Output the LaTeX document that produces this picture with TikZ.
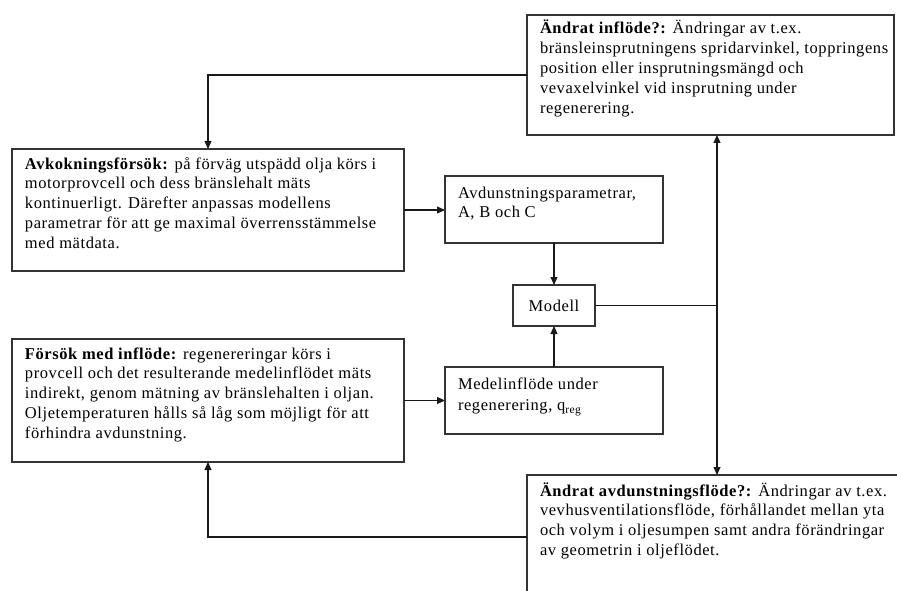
\documentclass[tikz,border=0pt]{standalone}
\usepackage{fontspec}
\setmainfont{Liberation Serif}[LetterSpace=3.5]
\usetikzlibrary{arrows.meta}

% Fixed-size box contents: text set flush left from the top, first baseline #3 below the top edge
\newcommand{\boxlines}[4]{\parbox[c][#2][t]{#1}{\hspace*{13pt}\begin{tabular}[t]{@{}l@{}}\rule{0pt}{#3}#4\end{tabular}}}

\begin{document}
\begin{tikzpicture}[x=1pt,y=-1pt,
  box/.style={draw=black!80, line width=1.1pt, inner sep=0pt, outer sep=0pt,
    anchor=north west, font=\fontsize{16.5}{19.8}\selectfont},
  conn/.style={draw=black!90, line width=1.1pt},
  arr/.style={conn, -{Triangle[length=8pt,width=7pt]}}]

\useasboundingbox (0,0) rectangle (897,591);
\fill[white] (0,0) rectangle (897,591);
\clip (0,0) rectangle (897,591);

% Boxes
\node[box] (inflow) at (527,15) {\boxlines{367pt}{120pt}{19pt}{%
  \textbf{Ändrat inflöde?:} Ändringar av t.ex.\\
  bränsleinsprutningens spridarvinkel, toppringens\\
  position eller insprutningsmängd och\\
  vevaxelvinkel vid insprutning under\\
  regenerering.}};

\node[box] (avkok) at (12,149) {\boxlines{392pt}{122pt}{20pt}{%
  \textbf{Avkokningsförsök:} på förväg utspädd olja körs i\\
  motorprovcell och dess bränslehalt mäts\\
  kontinuerligt. Därefter anpassas modellens\\
  parametrar för att ge maximal överrensstämmelse\\
  med mätdata.}};

\node[box] (params) at (445,176) {\boxlines{218pt}{67pt}{22pt}{%
  Avdunstningsparametrar,\\
  A, B och C}};

\node[box, minimum width=82pt, minimum height=41pt] (modell) at (513,285) {Modell};

\node[box] (forsok) at (12,339) {\boxlines{392pt}{123pt}{20pt}{%
  \textbf{Försök med inflöde:} regenereringar körs i\\
  provcell och det resulterande medelinflödet mäts\\
  indirekt, genom mätning av bränslehalten i oljan.\\
  Oljetemperaturen hålls så låg som möjligt för att\\
  förhindra avdunstning.}};

\node[box] (medel) at (445,367) {\boxlines{218pt}{67pt}{22pt}{%
  Medelinflöde under\\[2pt]
  regenerering, q\textsubscript{reg}}};

\node[box] (evap) at (527,475) {\boxlines{380pt}{124pt}{21pt}{%
  \textbf{Ändrat avdunstningsflöde?:} Ändringar av t.ex.\\
  vevhusventilationsflöde, förhållandet mellan yta\\
  och volym i oljesumpen samt andra förändringar\\
  av geometrin i oljeflödet.}};

% Connectors
\draw[arr] (inflow.west) -| (avkok.north);
\draw[arr] (avkok.east) -- (avkok.east -| params.west);
\draw[arr] (params.south) -- (modell.north);
\draw[arr] (medel.north) -- (modell.south);
\draw[arr] (forsok.east) -- (forsok.east -| medel.west);
\path (modell.east) ++(122,0) coordinate (junc);
\draw[conn] (modell.east) -- (junc);
\draw[arr] (junc) -- (junc |- inflow.south);
\draw[arr] (junc) -- (junc |- evap.north);
\draw[arr] (evap.west) -| (forsok.south);
\end{tikzpicture}
\end{document}
